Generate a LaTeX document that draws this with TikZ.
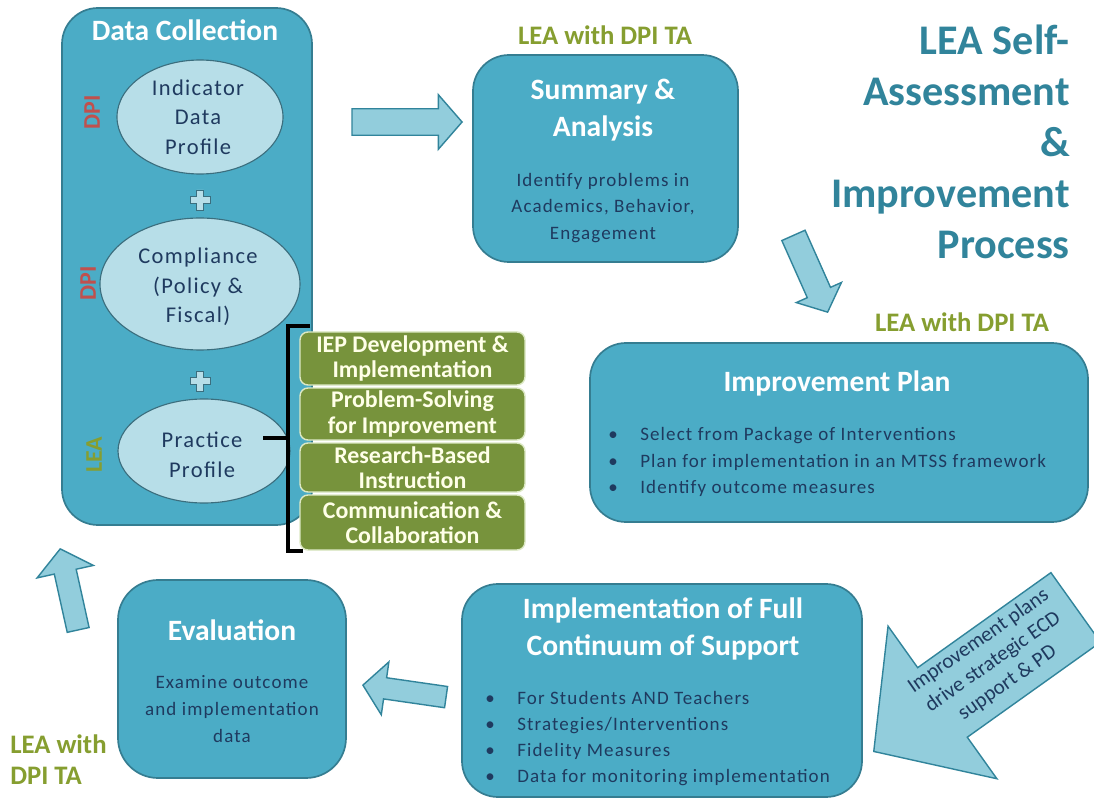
\documentclass[tikz,border=0pt]{standalone}
\usepackage{fontspec}
\setmainfont{Carlito}
\newfontfamily\spacedfont[LetterSpace=6]{Carlito}
\usetikzlibrary{shapes.geometric,shapes.arrows}

\definecolor{boxfill}{HTML}{4BACC6}
\definecolor{boxline}{HTML}{357D91}
\definecolor{arrowfill}{HTML}{92CDDC}
\definecolor{arrowline}{HTML}{31849B}
\definecolor{ellfill}{HTML}{B7DEE8}
\definecolor{ellline}{HTML}{3B6E7E}
\definecolor{navytext}{HTML}{1F3A5F}
\definecolor{greenfill}{HTML}{77933C}
\definecolor{greenline}{HTML}{DCE8C4}
\definecolor{greentext}{HTML}{FFFFE8}
\definecolor{olivetext}{HTML}{869E30}
\definecolor{dpired}{HTML}{C0504D}
\definecolor{titleteal}{HTML}{31849B}

\newcommand{\pxu}{0.025cm}
\newcommand{\bul}{\makebox[0.8cm][l]{\textbullet}}

\begin{document}
\begin{tikzpicture}
        [%%%%%%%%%%%%%%%%%%%%%%%%%%%%%%
        x=\pxu, y=-\pxu,
        stagebox/.style={rectangle, rounded corners=0.9cm, draw=boxline, line width=1.2pt, fill=boxfill, inner sep=0pt},
        profile/.style={ellipse, draw=ellline, line width=0.8pt, fill=ellfill, inner sep=0pt},
        profiletext/.style={text=navytext, align=center, font=\spacedfont\fontsize{16}{21}\selectfont},
        practice/.style={rectangle, rounded corners=0.2cm, draw=greenline, line width=1pt, fill=greenfill, inner sep=0pt, minimum width=225*\pxu, text=greentext, align=center, font=\fontsize{17}{18}\selectfont\bfseries},
        stagetitle/.style={text=white, align=center, font=\fontsize{21}{26}\selectfont\bfseries},
        stagebody/.style={text=navytext, align=center, font=\spacedfont\fontsize{13.5}{19}\selectfont},
        bullets/.style={text=navytext, align=left, font=\spacedfont\fontsize{13.5}{18.6}\selectfont, inner sep=0pt, anchor=west},
        blockarrow/.style={single arrow, draw=arrowline, line width=1pt, fill=arrowfill, inner xsep=0pt, anchor=tip},
        who/.style={text=olivetext, font=\fontsize{19}{22}\selectfont\bfseries},
        agency/.style={font=\fontsize{17}{17}\selectfont\bfseries, rotate=90},
        plussign/.style={draw=ellline, line width=0.6pt, fill=ellfill},
        ]%%%%%%%%%%%%%%%%%%%%%%%%%%%%%%
        \fill[white] (0,0) rectangle (1094,801);
        \useasboundingbox (0,0) rectangle (1094,801);

        % Stage boxes
        \node[stagebox, minimum width=250*\pxu, minimum height=517*\pxu] (collect) at (187,266.5) {};
        \node[stagebox, minimum width=265*\pxu, minimum height=207*\pxu] (summary) at (605.5,158.5) {};
        \node[stagebox, minimum width=498*\pxu, minimum height=179*\pxu] (plan) at (839,432.5) {};
        \node[stagebox, minimum width=400*\pxu, minimum height=213*\pxu] (implement) at (662,690.5) {};
        \node[stagebox, rounded corners=1cm, minimum width=228*\pxu, minimum height=198*\pxu] (evaluate) at (232,679) {};

        % Data collection contents
        \node[stagetitle] (collectTitle) at (185,30) {Data Collection};
        \node[profile, minimum width=166*\pxu, minimum height=114*\pxu] (indicator) at (200,117) {};
        \node[profile, minimum width=200*\pxu, minimum height=132*\pxu] (compliance) at (200,284) {};
        \node[profile, minimum width=172*\pxu, minimum height=104*\pxu] (practiceProfile) at (204,451) {};
        \node[profiletext] (indicatorText) at (198,117) {Indicator\\Data\\Profile};
        \node[profiletext] (complianceText) at (198,287) {Compliance\\(Policy \&\\Fiscal)};
        \node[profiletext] (practiceText) at (202,455) {Practice\\Profile};
        \foreach \y in {200,381}{
          % plus between profiles
          \draw[plussign] (196.5,\y-10) -- (203.5,\y-10) -- (203.5,\y-3.5) -- (210,\y-3.5)
            -- (210,\y+3.5) -- (203.5,\y+3.5) -- (203.5,\y+10) -- (196.5,\y+10)
            -- (196.5,\y+3.5) -- (190,\y+3.5) -- (190,\y-3.5) -- (196.5,\y-3.5) -- cycle;
        }
        \node[agency, text=dpired] (dpiA) at (92,112) {DPI};
        \node[agency, text=dpired] (dpiB) at (88,283) {DPI};
        \node[agency, text=olivetext] (leaA) at (94,455) {LEA};

        % Practice profile elements
        \node[practice, minimum height=53*\pxu] (iep) at (412.5,358.5) {IEP Development \&\\Implementation};
        \node[practice, minimum height=52*\pxu] (solving) at (412.5,414) {Problem-Solving\\for Improvement};
        \node[practice, minimum height=49*\pxu] (research) at (412.5,467.5) {Research-Based\\Instruction};
        \node[practice, minimum height=55*\pxu] (communicate) at (412.5,522.5) {Communication \&\\Collaboration};
        \coordinate (braceTop) at (310,326);
        \coordinate (braceBottom) at (303,551);
        \coordinate (braceTick) at (263,438);
        \draw[line width=2.2pt] (braceTop) -- (288,326) -- (288,551) -- (braceBottom);
        \draw[line width=2.2pt] (braceTick) -- (288,438);

        % Summary & Analysis
        \node[who] (whoSummary) at (605,35) {LEA with DPI TA};
        \node[stagetitle] (summaryTitle) at (603,110) {Summary \&\\Analysis};
        \node[stagebody] (summaryBody) at (603,208) {Identify problems in\\Academics, Behavior,\\Engagement};

        % Improvement Plan
        \node[who] (whoPlan) at (962,322) {LEA with DPI TA};
        \node[stagetitle] (planTitle) at (837,383) {Improvement Plan};
        \node[bullets] (planBody) at (608,462) {\bul Select from Package of Interventions\\\bul Plan for implementation in an MTSS framework\\\bul Identify outcome measures};

        % Implementation
        \node[stagetitle] (implementTitle) at (663,629) {Implementation of Full\\Continuum of Support};
        \node[bullets] (implementBody) at (485,738.5) {\bul For Students AND Teachers\\\bul Strategies/Interventions\\\bul Fidelity Measures\\\bul Data for monitoring implementation};

        % Evaluation
        \node[stagetitle] (evaluateTitle) at (232,630) {Evaluation};
        \node[stagebody] (evaluateBody) at (232,709) {Examine outcome\\and implementation\\data};
        \node[who, align=left, anchor=west, inner sep=0pt] (whoEvaluate) at (10,760) {LEA with\\DPI TA};

        % Title
        \node[anchor=east, align=right, inner sep=0pt, text=titleteal, font=\fontsize{30}{36.3}\selectfont\bfseries] (processTitle) at (1070,142) {LEA Self-\\Assessment\\\&\\Improvement\\Process};

        % Block arrows
        \node[blockarrow, minimum height=2.75cm, inner ysep=0.3125cm, single arrow head extend=0.35cm, single arrow tip angle=98] (toSummary) at (463,122) {};
        \node[blockarrow, rotate=-66, minimum height=2.1cm, inner ysep=0.3cm, single arrow head extend=0.3cm, single arrow tip angle=98] (toPlan) at (828,313) {};
        \node[blockarrow, rotate=-144.5, minimum height=6.2cm, inner ysep=1.05cm, single arrow head extend=1.275cm, single arrow tip angle=96] (toImplement) at (873,752) {};
        \node[blockarrow, rotate=171.8, minimum height=2.1cm, inner ysep=0.25cm, single arrow head extend=0.4cm, single arrow tip angle=100] (toEvaluate) at (362,685) {};
        \node[blockarrow, rotate=102.5, minimum height=2.075cm, inner ysep=0.2625cm, single arrow head extend=0.44cm, single arrow tip angle=102] (toCollect) at (60,548) {};
        \node[rotate=35, align=center, text=navytext, font=\fontsize{15}{18}\selectfont] (supportText) at (993,662) {Improvement plans\\drive strategic ECD\\support \& PD};
      \end{tikzpicture}
\end{document}
